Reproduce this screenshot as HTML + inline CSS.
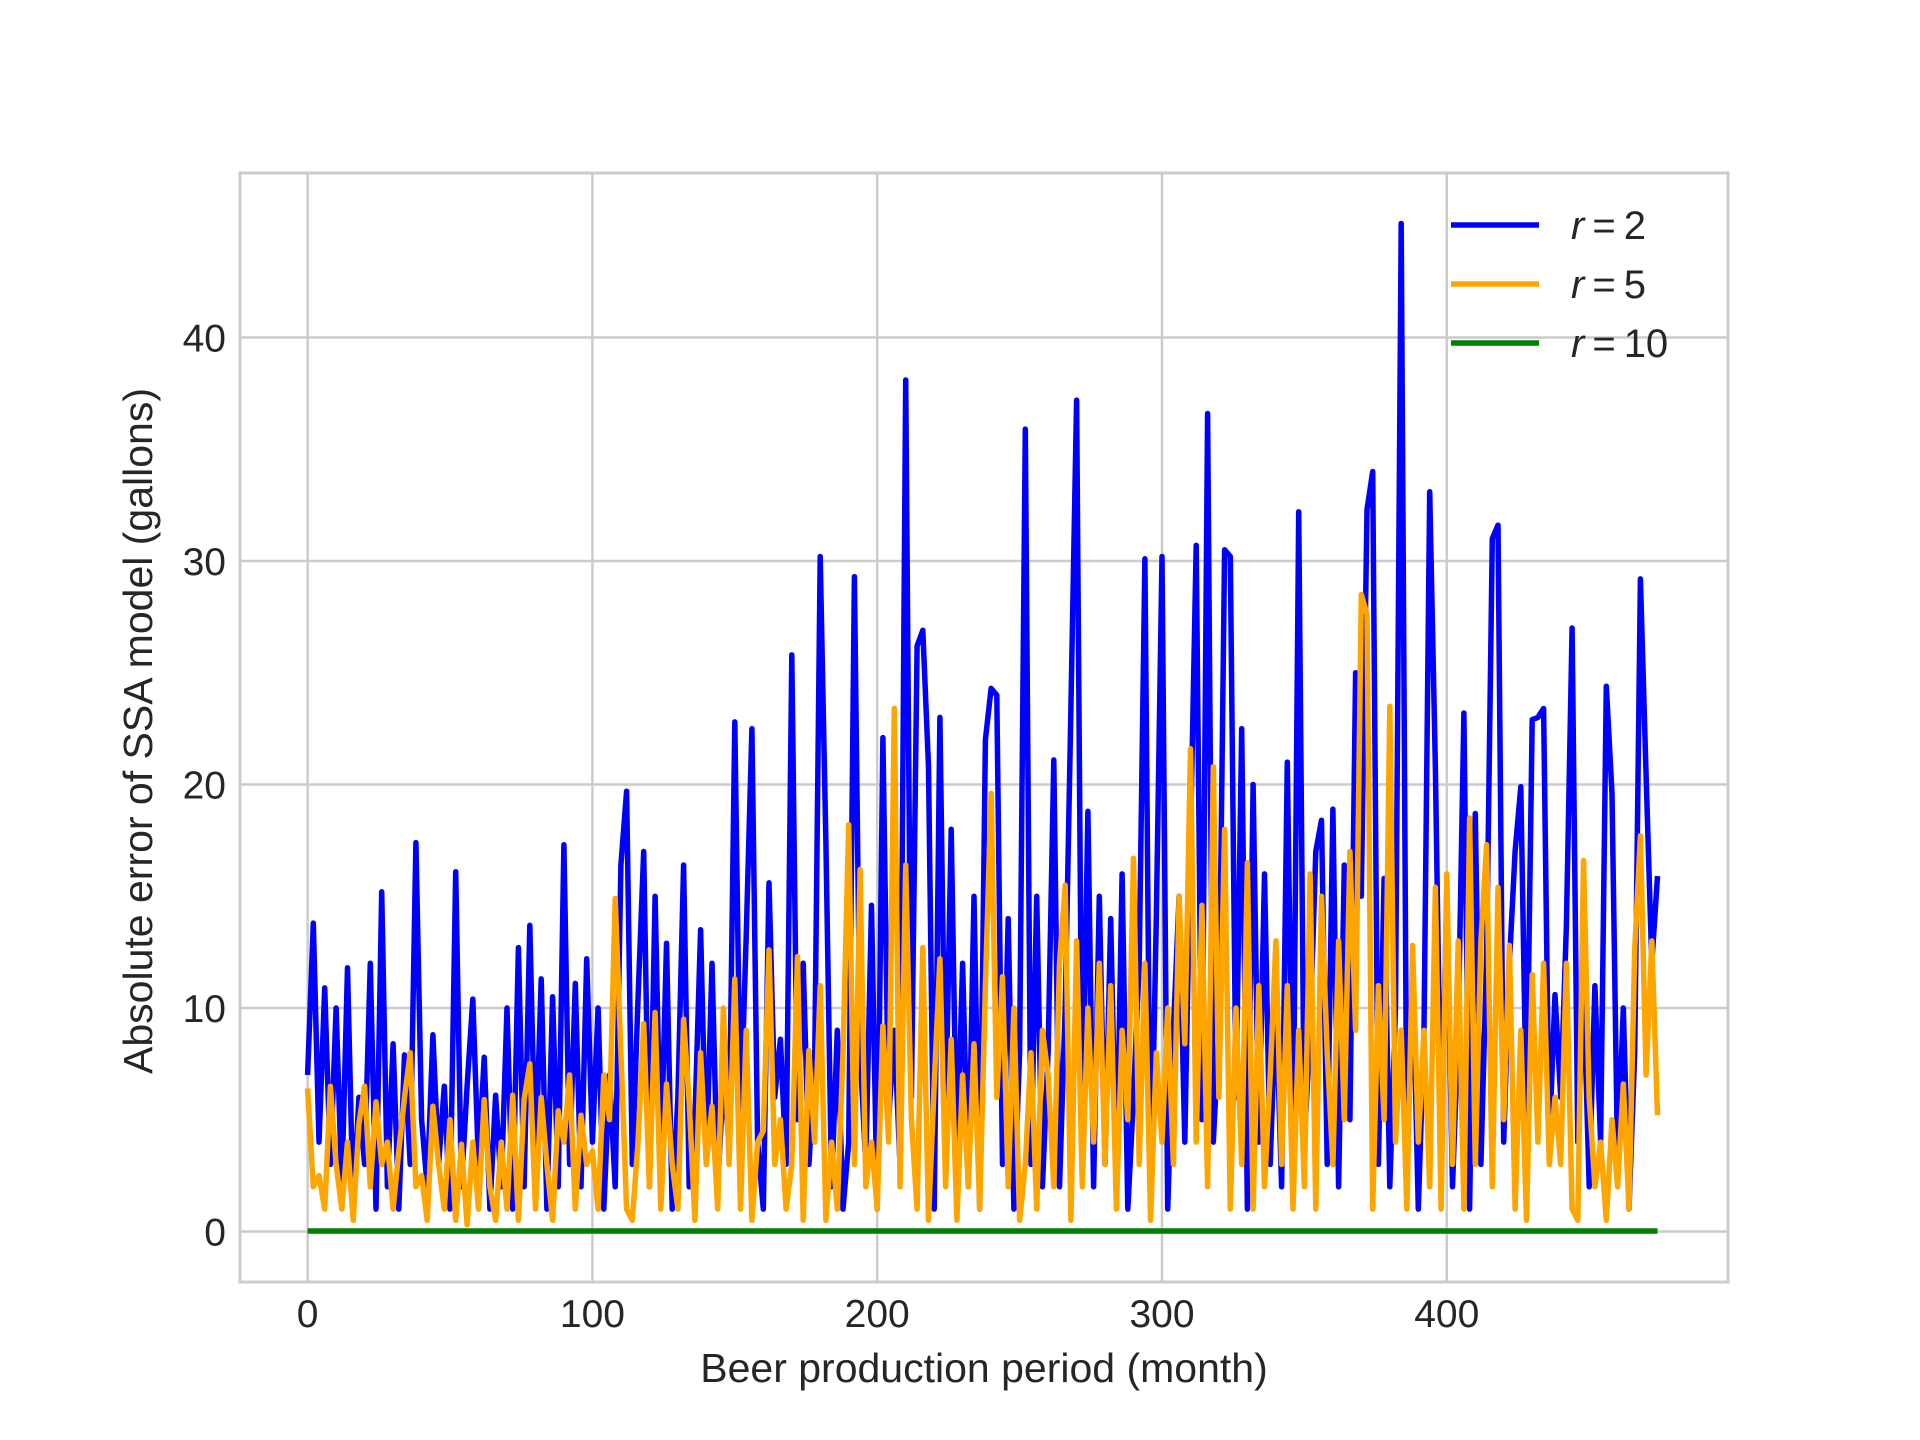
<!DOCTYPE html>
<html><head><meta charset="utf-8">
<style>
html,body{margin:0;padding:0;background:#fff;}
svg{display:block;font-family:"Liberation Sans","DejaVu Sans",sans-serif;}
</style></head>
<body>
<svg id="chart" width="1920" height="1440" viewBox="0 0 1920 1440"></svg>
<script>
const xTicks = [0, 100, 200, 300, 400];
const yTicks = [0, 10, 20, 30, 40];
const seriesLabels = ["r = 2", "r = 5", "r = 10"];
const monthStep = 2;
const errR2 = [
7,13.8,4,10.9,3,10,2,11.8,1,6,
3,12,1,15.2,2,8.4,1,7.9,3,17.4,
5,2,8.8,3,6.5,1,16.1,2,6.5,10.4,
3,7.8,1,6.1,2,10,1,12.7,2,13.7,
3,11.3,1,10.5,2,17.3,3,11.1,2,12.2,
4,10,1,7,2,16.4,19.7,3,10.4,17,
2,15,3,12.9,1,6,16.4,2,5,13.5,
3,12,2,6.8,4,22.8,5,13.2,22.5,4,
1,15.6,6,8.6,3,25.8,5,12,3,7.2,
30.2,17.4,2,9,1,4,29.3,8,3,14.6,
1,22.1,5,9,3,38.1,6,26.2,26.9,20.8,
1,23,5,18,3,12,2,15,1,22,
24.3,24,3,14,1,8,35.9,3,15,2,
8,21.1,2,10,23.4,37.2,4,18.8,2,15,
3,14,2,16,1,6,12,30.1,1,14,
30.2,1,9,15,4,17.6,30.7,5,36.6,4,
9,30.5,30.2,6,22.5,1,20,4,16,3,
10.4,2,21,3,32.2,4,9,17,18.4,3,
18.9,2,16.4,5,25,15,32.3,34,3,15.8,
2,10,45.1,3,12,1,9,33.1,20.7,4,
15,2,9,23.2,1,18.7,3,12.3,31,31.6,
4,12,17,19.9,5,22.9,23,23.4,4,10.6,
6,13.7,27,4,11,2,11,4,24.4,19.6,
3,10,1,8,29.2,20.4,12,15.9];
const errR5 = [
6.4,2,2.5,1,6.5,3,1,4,0.5,4.8,
6.5,2,5.8,3,4,1,3.6,6,8,2,
2.5,0.5,5.6,3,1,5,0.5,3.9,0.3,4,
1,5.9,2,0.5,4,1,6.1,0.5,5.9,7.5,
1,6,3,0.5,5.4,4,7,1,5.2,3,
3.6,1,7,5,14.9,8,1,0.5,4,9.3,
2,9.8,1,6.6,3,1,9.5,5.8,0.5,8,
3,5.6,1,10,3,11.3,1,9,0.5,4,
4.5,12.6,3,5,1,3,12.3,0.5,8.1,4,
11,0.5,4,1,8,18.2,3,16.2,2,4,
1,9.2,4,23.4,2,16.4,5,1,12.7,0.5,
6.6,12.2,2,8.6,0.5,7,2,8.4,1,11,
19.6,6,11.4,2,10,0.5,3,8,1,9,
7,2,12,15.5,0.5,13,2,10,4,12,
3,11,1,9,5,16.7,3,12,0.5,8,
4,10,3,15,8.4,21.6,4,14.6,2,20.8,
6,18,1,10,3,16.5,1,11,2,7,
13,3,11,1,9,2,16,1,15,8,
3,13,5,17,9,28.5,27.6,1,11,5,
23.5,4,9,1,12.8,4,9,2,15.4,1,
16,3,13,1,18.5,3,13,17.3,2,15.4,
5,12.8,1,9,0.5,11.5,4,12,3,6,
3,12,1,0.5,16.6,6,2,4,0.5,5,
2,6.6,1,12.6,17.7,7,13,5.2];
const errR10 = errR2.map(() => 0.02);

const svg = document.getElementById('chart');
const NS = 'http://www.w3.org/2000/svg';
const L = 240, R = 1728, T = 173, B = 1282;
const xMin = -23.75, xMax = 498.75, yMin = -2.26, yMax = 47.36;
const xs = v => L + (v - xMin) / (xMax - xMin) * (R - L);
const ys = v => B - (v - yMin) / (yMax - yMin) * (B - T);
function mk(tag, attrs, parent) {
  const e = document.createElementNS(NS, tag);
  for (const k in attrs) e.setAttribute(k, attrs[k]);
  (parent || svg).appendChild(e);
  return e;
}
const grid = mk('g', {});


xTicks.forEach(t => {
  const g = mk('line', {x1: xs(t), x2: xs(t), y1: T, y2: B, stroke: '#cccccc', 'stroke-width': 2.5}, grid);
  
  
  const tx = mk('text', {x: xs(t), y: 1327, 'text-anchor': 'middle', 'font-size': 39, fill: '#262626'});
  tx.textContent = t;
  
  
});
yTicks.forEach(t => {
  const g = mk('line', {x1: L, x2: R, y1: ys(t), y2: ys(t), stroke: '#cccccc', 'stroke-width': 2.5}, grid);
  
  
  const tx = mk('text', {x: 226, y: ys(t) + 14, 'text-anchor': 'end', 'font-size': 39, fill: '#262626'});
  tx.textContent = t;
  
  
});
const frame = mk('rect', {x: L, y: T, width: R - L, height: B - T, fill: 'none', stroke: '#cccccc', 'stroke-width': 3});



const colors = ['#0000ff', '#ffa500', '#008000'];
const names = ['line-r2', 'line-r5', 'line-r10'];
[errR2, errR5, errR10].forEach((arr, si) => {
  const d = arr.map((v, i) => (i ? 'L' : 'M') + xs(i * monthStep).toFixed(1) + ',' + ys(v).toFixed(1)).join(' ');
  const p = mk('path', {d: d, fill: 'none', stroke: colors[si], 'stroke-width': 5.5, 'stroke-linejoin': 'round'});
  
  
});

const legend = mk('g', {});


seriesLabels.forEach((lab, i) => {
  const y = 225 + i * 59;
  const ln = mk('line', {x1: 1451, x2: 1539, y1: y, y2: y, stroke: colors[i], 'stroke-width': 5.5}, legend);
  
  
  const parts = lab.split(' = ');
  const tx = mk('text', {x: 1571, y: y + 14, 'font-size': 40, fill: '#262626'}, legend);
  tx.innerHTML = '<tspan font-style="italic">' + parts[0] + '</tspan><tspan dx="8">=</tspan><tspan dx="8">' + parts[1] + '</tspan>';
  
  
});

const xl = mk('text', {x: 984, y: 1382, 'text-anchor': 'middle', 'font-size': 41, fill: '#262626'});
xl.textContent = 'Beer production period (month)';


const yl = mk('text', {x: 0, y: 0, 'text-anchor': 'middle', 'font-size': 41, fill: '#262626', transform: 'translate(152,731) rotate(-90)'});
yl.textContent = 'Absolute error of SSA model (gallons)';


</script>
</body></html>
